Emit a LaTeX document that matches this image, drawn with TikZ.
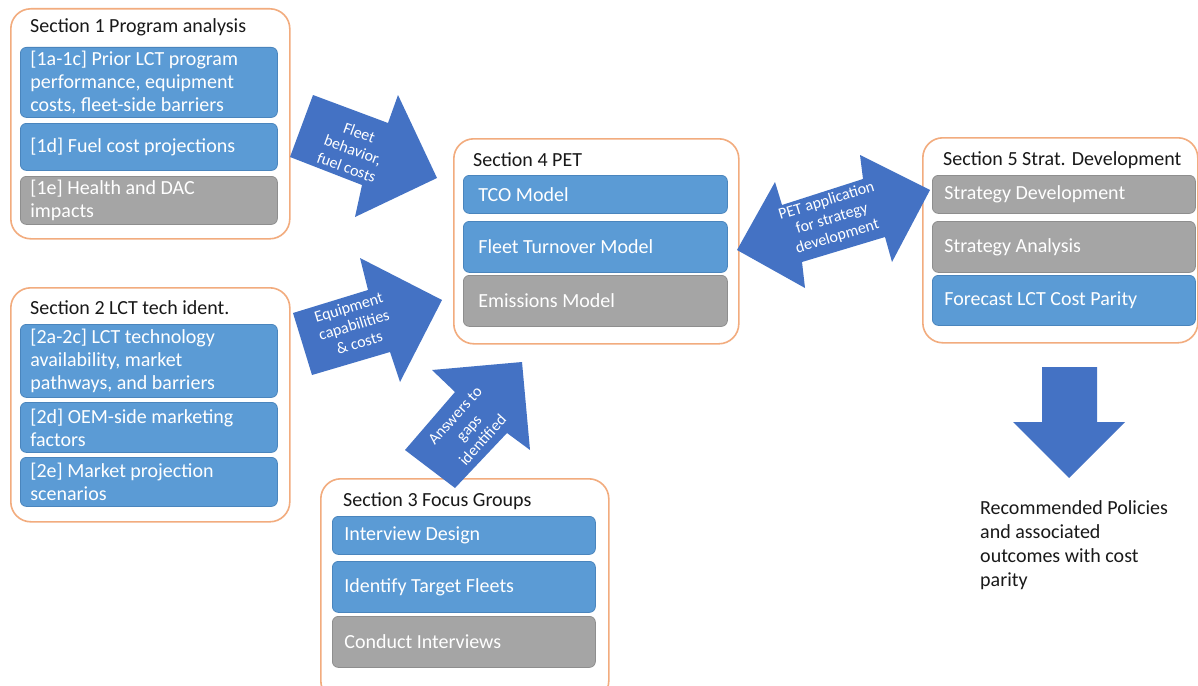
\documentclass[tikz,border=0pt]{standalone}
\usepackage{fontspec}
\setmainfont{Carlito}
\definecolor{boxblue}{HTML}{5B9BD5}
\definecolor{boxblueline}{HTML}{4A85BD}
\definecolor{boxgray}{HTML}{A5A5A5}
\definecolor{boxgrayline}{HTML}{8E8E8E}
\definecolor{arrblue}{HTML}{4472C4}
\definecolor{outline}{HTML}{F2AC7E}
\begin{document}
\begin{tikzpicture}[x=1pt,y=-1pt,
  outerbox/.style={draw=outline, line width=1.6pt, rounded corners=20pt, anchor=north west, inner sep=0pt, fill=white},
  ibox/.style={rounded corners=6pt, line width=0.8pt, anchor=north west, text=white,
     font=\fontsize{20}{23}\selectfont, align=flush left, inner ysep=0pt},
  bluebox/.style={ibox, fill=boxblue, draw=boxblueline},
  graybox/.style={ibox, fill=boxgray, draw=boxgrayline},
  title/.style={anchor=west, font=\fontsize{20}{23}\selectfont, text=black!90, inner sep=0pt},
  arrtext/.style={text=white, font=\fontsize{16}{18.5}\selectfont, align=flush center, inner sep=0pt},
  arrowfill/.style={fill=arrblue}
]
\useasboundingbox (0,0) rectangle (1198,685);
\fill[white] (0,0) rectangle (1198,685);

% ---------- Section 1 ----------
\node[outerbox, minimum width=279pt, minimum height=230pt] (s1) at (10,8) {};
\node[title] (s1t) at (30,27) {Section 1 Program analysis};
\node[bluebox, inner xsep=10pt, text width=237pt, minimum width=257pt, minimum height=70pt] (b1a) at (20,47)
  {[1a-1c] Prior LCT program\\performance, equipment\\costs, fleet-side barriers};
\node[bluebox, inner xsep=10pt, text width=237pt, minimum width=257pt, minimum height=47pt] (b1d) at (20,123)
  {[1d] Fuel cost projections};
\node[graybox, inner xsep=10pt, text width=237pt, minimum width=257pt, minimum height=48pt] (b1e) at (20,176)
  {[1e] Health and DAC\\impacts};

% ---------- Section 2 ----------
\node[outerbox, minimum width=279pt, minimum height=234pt] (s2) at (10,287) {};
\node[title] (s2t) at (30,308) {Section 2 LCT tech ident.};
\node[bluebox, inner xsep=10pt, text width=237pt, minimum width=257pt, minimum height=73pt] (b2a) at (20,324)
  {[2a-2c] LCT technology\\availability, market\\pathways, and barriers};
\node[bluebox, inner xsep=10pt, text width=237pt, minimum width=257pt, minimum height=50pt] (b2d) at (20,402)
  {[2d] OEM-side marketing\\factors};
\node[bluebox, inner xsep=10pt, text width=237pt, minimum width=257pt, minimum height=49pt] (b2e) at (20,457)
  {[2e] Market projection\\scenarios};

% ---------- Section 4 ----------
\node[outerbox, minimum width=285pt, minimum height=205pt] (s4) at (453,138) {};
\node[title] (s4t) at (473,160) {Section 4 PET};
\node[bluebox, inner xsep=15pt, text width=234pt, minimum width=264pt, minimum height=38pt] (tco) at (463,175)
  {TCO Model};
\node[bluebox, inner xsep=15pt, text width=234pt, minimum width=264pt, minimum height=51pt] (fto) at (463,221)
  {Fleet Turnover Model};
\node[graybox, inner xsep=15pt, text width=234pt, minimum width=264pt, minimum height=51pt] (emm) at (463,275)
  {Emissions Model};

% ---------- Section 5 ----------
\node[outerbox, minimum width=275pt, minimum height=205pt] (s5) at (922,137) {};
\node[title] (s5t) at (943,160) {Section 5 Strat. Development};
\node[graybox, inner xsep=12pt, text width=239pt, minimum width=263pt, minimum height=38pt] (sdv) at (932,175)
  {Strategy Development};
\node[graybox, inner xsep=12pt, text width=239pt, minimum width=263pt, minimum height=51pt] (san) at (932,221)
  {Strategy Analysis};
\node[bluebox, inner xsep=12pt, text width=239pt, minimum width=263pt, minimum height=50pt] (fcp) at (932,275)
  {Forecast LCT Cost Parity};

% ---------- Section 3 ----------
\node[outerbox, minimum width=288pt, minimum height=222pt] (s3) at (320,478) {};
\node[title] (s3t) at (343,501) {Section 3 Focus Groups};
\node[bluebox, inner xsep=12pt, text width=239pt, minimum width=263pt, minimum height=38pt] (ivd) at (332,516)
  {Interview Design};
\node[bluebox, inner xsep=12pt, text width=239pt, minimum width=263pt, minimum height=51pt] (itf) at (332,561)
  {Identify Target Fleets};
\node[graybox, inner xsep=12pt, text width=239pt, minimum width=263pt, minimum height=51pt] (cin) at (332,616)
  {Conduct Interviews};

% ---------- Block arrows ----------
% Arrow 1: Fleet behavior, fuel costs
\fill[arrowfill] (313,95) -- (388,123) -- (398,95) -- (437,178) -- (355,217) -- (362,185) -- (290,157) -- cycle;
\node[arrtext, rotate=-20] (a1t) at (353,150) {Fleet\\behavior,\\fuel costs};

% Arrow 2: Equipment capabilities & costs
\fill[arrowfill] (293,313) -- (368,290) -- (360,258) -- (442,300) -- (400,382) -- (390,352) -- (312,375) -- cycle;
\node[arrtext, rotate=17] (a2t) at (354,325) {Equipment\\capabilities\\\& costs};

% Arrow 3: Answers to gaps identified
\fill[arrowfill] (432,370) -- (522,362) -- (530,450) -- (507,433) -- (455,488) -- (405,450) -- (455,392) -- cycle;
\node[arrtext, rotate=48] (a3t) at (469,428) {Answers to\\gaps\\identified};

% Arrow 4: double arrow PET application
\fill[arrowfill] (737,250) -- (775,182) -- (782,205) -- (863,179) -- (860,155) -- (930,190) -- (892,262) -- (885,237) -- (802,262) -- (805,288) -- cycle;
\node[arrtext, rotate=17] (a4t) at (832,219) {PET application\\for strategy\\development};

% Arrow 5: down arrow
\fill[arrowfill] (1042,367) -- (1097,367) -- (1097,422) -- (1125,422) -- (1069,478) -- (1013,422) -- (1042,422) -- cycle;

% Final text
\node[anchor=north west, align=flush left, inner sep=0pt, font=\fontsize{20}{24}\selectfont, text=black!90] (rec) at (980,500)
  {Recommended Policies\\and associated\\outcomes with cost\\parity};
\end{tikzpicture}
\end{document}
